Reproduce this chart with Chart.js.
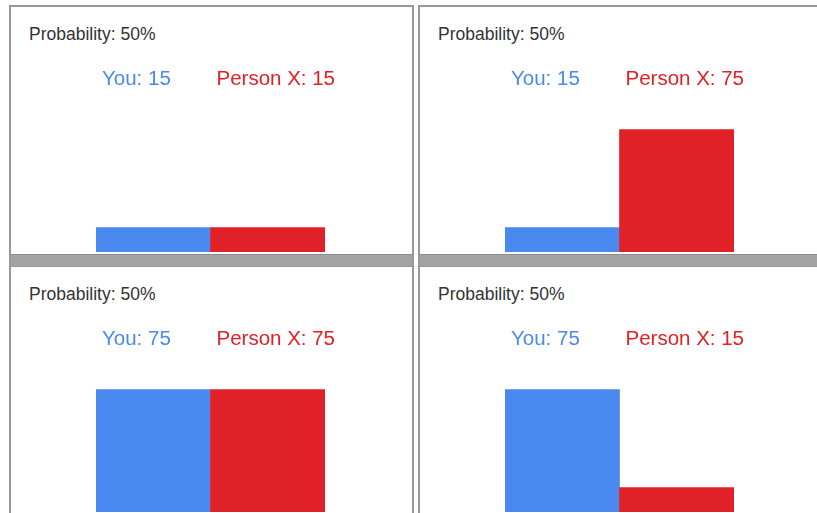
<!DOCTYPE html>
<html>
<head>
<meta charset="utf-8">
<script src="https://cdn.jsdelivr.net/npm/chart.js@4.4.0/dist/chart.umd.min.js"></script>
<style>
    body {
        margin: 0;
        width: 817px;
        height: 513px;
        overflow: hidden;
        background: #ffffff;
        position: relative;
        font-family: 'Liberation Sans', Arial, sans-serif;
    }
    .cell {
        position: absolute;
        box-sizing: border-box;
        border: 2px solid #999999;
        background: #ffffff;
    }
    .cell canvas {
        position: absolute;
        left: 0;
        top: 0;
    }
    .prob {
        position: absolute;
        left: 18px;
        top: 16px;
        font-size: 17.5px;
        line-height: 22px;
        color: #333333;
    }
    .band {
        position: absolute;
        box-sizing: border-box;
        height: 13px;
        background: #a3a3a3;
        border-top: 1px solid #8c8c8c;
        border-bottom: 1px solid #8c8c8c;
        border-left: 2px solid #999999;
        border-right: 2px solid #999999;
    }
</style>
</head>
<body>
<div class="cell" style="left:9px; top:5px; width:405px; height:252px; border-bottom:none;">
    <div class="prob" id="prob0"></div>
    <canvas id="chart0" width="401" height="247"></canvas>
</div>
<div class="cell" style="left:418px; top:5px; width:405px; height:252px; border-bottom:none;">
    <div class="prob" id="prob1"></div>
    <canvas id="chart1" width="401" height="247"></canvas>
</div>
<div class="band" style="left:9px; top:254px; width:405px;"></div>
<div class="band" style="left:418px; top:254px; width:405px;"></div>
<div class="cell" style="left:9px; top:266px; width:405px; height:260px; border-top-width:1px;">
    <div class="prob" id="prob2"></div>
    <canvas id="chart2" width="401" height="247"></canvas>
</div>
<div class="cell" style="left:418px; top:266px; width:405px; height:260px; border-top-width:1px;">
    <div class="prob" id="prob3"></div>
    <canvas id="chart3" width="401" height="247"></canvas>
</div>

<script>
// Panels in reading order: top-left, top-right, bottom-left, bottom-right
const categories = ['You', 'Person X'];
const probabilities = [50, 50, 50, 50];
const youValues = [15, 15, 75, 75];
const personXValues = [15, 75, 75, 15];

const BLUE = '#4a89f0';
const RED = '#e02127';

// draws "You: 15" / "Person X: 15" left-aligned over each bar
const barLabelPlugin = {
    id: 'barLabels',
    afterDatasetsDraw(chart) {
        const ctx = chart.ctx;
        const meta = chart.getDatasetMeta(0);
        const values = chart.data.datasets[0].data;
        ctx.save();
        ctx.font = '20.5px "Liberation Sans", Arial, sans-serif';
        ctx.textAlign = 'left';
        ctx.textBaseline = 'middle';
        meta.data.forEach((bar, i) => {
            ctx.fillStyle = i === 0 ? BLUE : RED;
            const left = bar.x - bar.width / 2;
            ctx.fillText(`${chart.data.labels[i]}: ${values[i]}`, left + 6, 72);
        });
        ctx.restore();
    }
};

function createPanelChart(index) {
    document.getElementById('prob' + index).textContent = `Probability: ${probabilities[index]}%`;

    const ctx = document.getElementById('chart' + index);
    return new Chart(ctx.getContext('2d'), {
        type: 'bar',
        data: {
            labels: categories,
            datasets: [{
                data: [youValues[index], personXValues[index]],
                backgroundColor: [BLUE, RED],
                borderWidth: 0,
                categoryPercentage: 1.0,
                barPercentage: 1.0
            }]
        },
        options: {
            responsive: false,
            animation: false,
            devicePixelRatio: 1,
            layout: {
                padding: { left: 85, right: 87, top: 0, bottom: 2 }
            },
            plugins: {
                legend: { display: false },
                tooltip: { enabled: false },
                title: { display: false }
            },
            scales: {
                x: { display: false },
                y: { display: false, min: 0, max: 150 }
            }
        },
        plugins: [barLabelPlugin]
    });
}

for (let i = 0; i < 4; i++) {
    createPanelChart(i);
}
</script>
</body>
</html>
